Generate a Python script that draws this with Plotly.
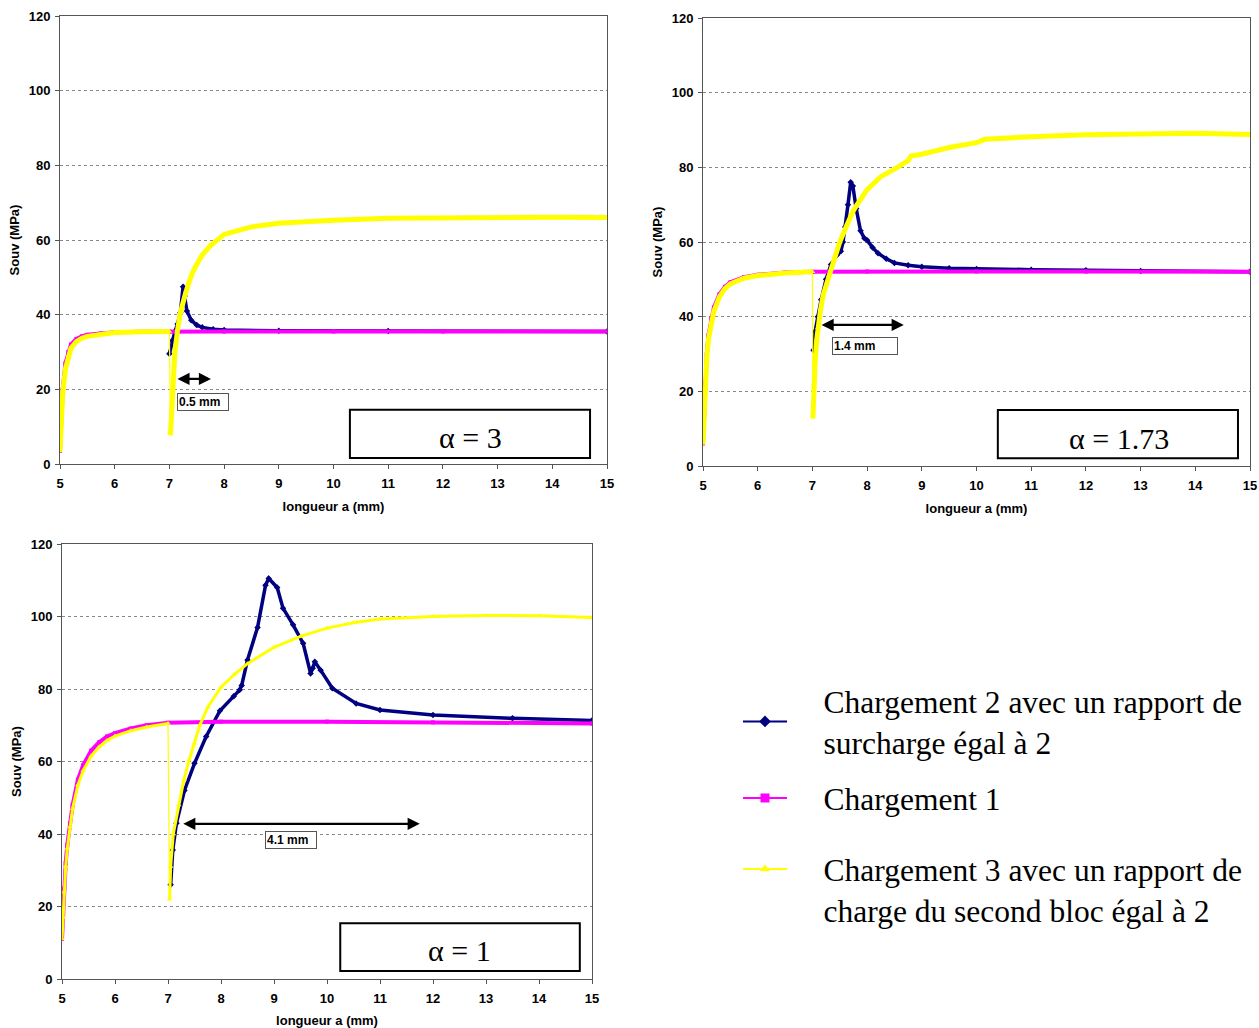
import plotly.graph_objects as go

W, H = 1259, 1028

# ---------------- DATA ----------------
# Panel alpha = 3
x_c1_a3 = [5.0, 5.02, 5.05, 5.1, 5.15, 5.2, 5.3, 5.4, 5.5, 5.75, 6.0, 6.5, 7.0, 8.0, 10.0, 12.0, 15.0]
y_c1_a3 = [3.5, 12, 20, 27, 30, 32, 33.5, 34.2, 34.6, 35.0, 35.3, 35.4, 35.5, 35.5, 35.5, 35.5, 35.5]
x_c2_a3 = [7.0, 7.05, 7.1, 7.15, 7.2, 7.25, 7.28, 7.32, 7.4, 7.5, 7.6, 7.8, 8.0, 9.0, 11.0, 15.0]
y_c2_a3 = [29.5, 33, 35.5, 37.5, 40.5, 47.5, 45, 41, 38.5, 37.2, 36.6, 36.1, 35.9, 35.7, 35.6, 35.5]
x_c3_a3 = [5.0, 5.02, 5.05, 5.1, 5.15, 5.2, 5.3, 5.4, 5.5, 5.75, 6.0, 6.5, 7.0, 7.02, 7.04, 7.06,
           7.08, 7.1, 7.15, 7.2, 7.3, 7.4, 7.5, 7.6, 7.75, 8.0, 8.25, 8.5, 9.0, 9.5, 10.0, 11.0,
           12.0, 13.0, 14.0, 15.0]
y_c3_a3 = [3.5, 11, 19, 25.5, 29, 31, 32.8, 33.7, 34.2, 34.8, 35.2, 35.4, 35.5, 8, 14, 20,
           26, 30, 36, 40.5, 46, 50.5, 53.5, 56, 58.5, 61.5, 62.5, 63.5, 64.5, 65.0, 65.3, 65.8,
           66.0, 66.1, 66.1, 66.0]

# Panel alpha = 1.73
x_c1_a173 = [5.0, 5.02, 5.04, 5.07, 5.1, 5.15, 5.2, 5.3, 5.4, 5.5, 5.75, 6.0, 6.5, 7.0, 8.0, 10.0, 12.0, 15.0]
y_c1_a173 = [6, 14, 22, 30, 35, 39.5, 42.5, 46, 48, 49.2, 50.6, 51.2, 51.8, 52.0, 52.1, 52.1, 52.1, 52.0]
x_c2_a173 = [7.02, 7.05, 7.1, 7.16, 7.25, 7.34, 7.45, 7.52, 7.56, 7.6, 7.65, 7.7, 7.74, 7.8, 7.88,
             7.95, 8.0, 8.1, 8.2, 8.35, 8.5, 8.75, 9.0, 9.5, 10.0, 11.0, 12.0, 13.0, 15.0]
y_c2_a173 = [31, 36, 40, 44.5, 50, 54, 56.5, 57.5, 60, 64, 70, 76, 75, 69, 63,
             61, 60.5, 58.5, 57, 55.5, 54.4, 53.8, 53.4, 53.0, 52.8, 52.6, 52.4, 52.2, 52.0]
x_c3_a173 = [5.0, 5.02, 5.04, 5.07, 5.1, 5.15, 5.2, 5.3, 5.4, 5.5, 5.75, 6.0, 6.5, 7.0, 7.01, 7.03,
             7.05, 7.08, 7.1, 7.15, 7.2, 7.3, 7.4, 7.5, 7.6, 7.75, 8.0, 8.25, 8.5, 8.75, 8.8, 9.0,
             9.5, 10.0, 10.15, 10.5, 11.0, 12.0, 13.0, 14.0, 15.0]
y_c3_a173 = [6, 13, 21, 29, 34, 38.5, 41.5, 45.3, 47.5, 48.8, 50.3, 51, 51.7, 52, 13, 22,
             28, 34, 37, 42, 46, 51, 56, 60, 63.5, 68.5, 74, 77.5, 79.5, 81.8, 83, 83.5,
             85.3, 86.6, 87.5, 87.8, 88.2, 88.7, 89.0, 89.1, 88.8]

# Panel alpha = 1
x_c1_a1 = [5.0, 5.02, 5.04, 5.07, 5.1, 5.15, 5.2, 5.3, 5.4, 5.55, 5.7, 5.85, 6.0, 6.3, 6.6, 7.0, 8.0, 10.0, 12.0, 15.0]
y_c1_a1 = [11, 18, 25, 32, 37, 43, 48, 55, 59, 63, 65.3, 66.9, 67.8, 69.1, 70.0, 70.7, 71.0, 71.0, 70.8, 70.5]
x_c2_a1 = [7.05, 7.09, 7.16, 7.31, 7.5, 7.72, 7.98, 8.24, 8.35, 8.39, 8.5, 8.69, 8.84, 8.9, 9.06,
           9.17, 9.36, 9.55, 9.69, 9.73, 9.77, 9.88, 10.1, 10.55, 11.0, 12.0, 13.5, 15.0]
y_c2_a1 = [26, 35.6, 43, 52, 59.5, 66.9, 74, 78, 79.7, 81, 88, 97, 108.6, 110.5, 108,
           102.3, 97.7, 92.6, 84.3, 85.7, 87.5, 85.2, 80.2, 76, 74.2, 72.8, 71.9, 71.3]
x_c3_a1 = [5.0, 5.02, 5.04, 5.07, 5.1, 5.15, 5.2, 5.3, 5.4, 5.55, 5.7, 5.85, 6.0, 6.3, 6.6, 7.0,
           7.03, 7.05, 7.1, 7.2, 7.3, 7.4, 7.5, 7.6, 7.75, 8.0, 8.25, 8.5, 9.0, 9.5, 10.0,
           10.5, 11.0, 12.0, 13.0, 14.0, 15.0]
y_c3_a1 = [11, 17, 24, 31, 36, 42, 47, 53.5, 57.5, 61.5, 64, 65.8, 67, 68.5, 69.5, 70.5,
           22, 31, 40, 48, 55, 60.5, 65, 70, 75, 80.5, 84, 87, 91.5, 94.5, 96.8,
           98.3, 99.3, 100.0, 100.3, 100.2, 99.7]

legend_lines = [["Chargement 2 avec un rapport de", "surcharge égal à 2"],
                ["Chargement 1"],
                ["Chargement 3 avec un rapport de", "charge du second bloc égal à 2"]]
x_ticks = [5, 6, 7, 8, 9, 10, 11, 12, 13, 14, 15]
y_ticks = [0, 20, 40, 60, 80, 100, 120]
alpha_labels = ["α = 3", "α = 1.73", "α = 1"]
gap_labels = ["0.5 mm", "1.4 mm", "4.1 mm"]

# ---------------- STYLE ----------------
NAVY, MAG, YEL = "#000080", "#FF00FF", "#FFFF00"

fig = go.Figure()


def split_at_drop(xs, ys):
    """Break the line (None) at the sudden unloading drop so only that segment stays thin."""
    for i in range(len(ys) - 1):
        if ys[i + 1] < ys[i] - 10:
            return xs[:i + 1] + [None] + xs[i + 1:], ys[:i + 1] + [None] + ys[i + 1:]
    return xs, ys


panels = [
    ("x", "y", x_c2_a3, y_c2_a3, x_c1_a3, y_c1_a3, x_c3_a3, y_c3_a3, 5),
    ("x2", "y2", x_c2_a173, y_c2_a173, x_c1_a173, y_c1_a173, x_c3_a173, y_c3_a173, 5),
    ("x3", "y3", x_c2_a1, y_c2_a1, x_c1_a1, y_c1_a1, x_c3_a1, y_c3_a1, 3),
]
for xa, ya, x2, y2, x1, y1, x3, y3, yw in panels:
    fig.add_trace(go.Scatter(x=x2, y=y2, xaxis=xa, yaxis=ya, mode="lines+markers",
                             line=dict(color=NAVY, width=3.5),
                             marker=dict(symbol="diamond", size=5, color=NAVY),
                             showlegend=False))
    fig.add_trace(go.Scatter(x=x1, y=y1, xaxis=xa, yaxis=ya, mode="lines+markers",
                             line=dict(color=MAG, width=4),
                             marker=dict(symbol="square", size=4, color=MAG),
                             showlegend=False))
    # thin full line (shows the thin vertical unloading segment)
    fig.add_trace(go.Scatter(x=x3, y=y3, xaxis=xa, yaxis=ya, mode="lines+markers",
                             line=dict(color=YEL, width=1.2),
                             marker=dict(symbol="triangle-up", size=5, color=YEL),
                             showlegend=False))
    xs_b, ys_b = split_at_drop(x3, y3)
    fig.add_trace(go.Scatter(x=xs_b, y=ys_b, xaxis=xa, yaxis=ya, mode="lines",
                             line=dict(color=YEL, width=yw), connectgaps=False,
                             showlegend=False, hoverinfo="skip"))

# legend entries (one legend per entry for exact vertical placement)
PAD = "&nbsp;" * 4
leg_ids = ["legend", "legend2", "legend3"]
for lines, col, sym, lid in zip(legend_lines, [NAVY, MAG, YEL],
                                ["diamond", "square", "triangle-up"], leg_ids):
    name = "<br>".join(PAD + s for s in lines)
    fig.add_trace(go.Scatter(x=[None], y=[None], xaxis="x3", yaxis="y3", name=name,
                             mode="lines+markers", legend=lid,
                             line=dict(color=col, width=2),
                             marker=dict(symbol=sym, size=9, color=col)))

def px_x(p):
    return p / W

def px_y(p):
    return 1 - p / H

axis_font = dict(family="Liberation Sans", size=13, color="black", weight="bold")
domains = {
    "1": dict(x=[px_x(60), px_x(607)], y=[px_y(464), px_y(16)]),
    "2": dict(x=[px_x(703), px_x(1250)], y=[px_y(466), px_y(18)]),
    "3": dict(x=[px_x(62), px_x(592)], y=[px_y(979), px_y(544)]),
}

leg_font = dict(family="Liberation Serif", size=31.5, color="black")
LX = px_x(738)
layout = dict(
    width=W, height=H, margin=dict(l=0, r=0, t=0, b=0, autoexpand=False),
    paper_bgcolor="white", plot_bgcolor="white",
    legend=dict(x=LX, y=px_y(674), xanchor="left", yanchor="top", font=leg_font,
                bgcolor="rgba(0,0,0,0)", itemwidth=44, valign="middle"),
    legend2=dict(x=LX, y=px_y(771), xanchor="left", yanchor="top", font=leg_font,
                 bgcolor="rgba(0,0,0,0)", itemwidth=44, valign="middle"),
    legend3=dict(x=LX, y=px_y(842), xanchor="left", yanchor="top", font=leg_font,
                 bgcolor="rgba(0,0,0,0)", itemwidth=44, valign="top"),
    showlegend=True,
)
for k in ["1", "2", "3"]:
    xs = "xaxis" if k == "1" else "xaxis" + k
    ys = "yaxis" if k == "1" else "yaxis" + k
    anchor_x = "y" if k == "1" else "y" + k
    anchor_y = "x" if k == "1" else "x" + k
    layout[xs] = dict(domain=domains[k]["x"], anchor=anchor_x, range=[5, 15],
                      tickvals=x_ticks, ticks="outside", ticklen=4, tickcolor="#555",
                      ticklabelstandoff=3, automargin=False,
                      showline=True, linecolor="#555", linewidth=1, mirror=True,
                      showgrid=False, zeroline=False, tickfont=axis_font,
                      title=dict(text="longueur a (mm)", font=axis_font, standoff=12))
    layout[ys] = dict(domain=domains[k]["y"], anchor=anchor_y, range=[0, 120],
                      tickvals=y_ticks, ticks="outside", ticklen=4, tickcolor="#555",
                      ticklabelstandoff=2, automargin=False,
                      showline=True, linecolor="#555", linewidth=1, mirror=True,
                      showgrid=True, gridcolor="#888", griddash="dot", gridwidth=1,
                      zeroline=False, tickfont=axis_font,
                      title=dict(text="Souv (MPa)", font=axis_font, standoff=6))
fig.update_layout(**layout)

# alpha boxes, arrows and gap labels
box_specs = [("x", "y", 10.30, 14.69, 1.6, 14.5, 12.5, 7.0),
             ("x2", "y2", 10.39, 14.78, 2.1, 15.0, 12.6, 7.5),
             ("x3", "y3", 10.25, 14.77, 2.2, 15.4, 12.5, 8.0)]
for i, (xr, yr, x0, x1, y0, y1, tx, ty) in enumerate(box_specs):
    fig.add_shape(type="rect", xref=xr, yref=yr, x0=x0, x1=x1, y0=y0, y1=y1,
                  line=dict(color="black", width=2), fillcolor="white")
    fig.add_annotation(xref=xr, yref=yr, x=tx, y=ty, text=alpha_labels[i], showarrow=False,
                       font=dict(family="Liberation Serif", size=30, color="black"))

arrow_specs = [("x", "y", 7.12, 7.76, 22.8, 7.62, 16.7),
               ("x2", "y2", 7.14, 8.67, 37.8, 7.96, 32.1),
               ("x3", "y3", 7.26, 11.75, 42.8, 9.32, 38.3)]
for i, (xr, yr, xa, xb, yv, lx, ly) in enumerate(arrow_specs):
    fig.add_annotation(xref=xr, yref=yr, axref=xr, ayref=yr, x=xb, y=yv, ax=xa, ay=yv,
                       text="", showarrow=True, arrowhead=2, startarrowhead=2,
                       arrowside="end+start", arrowsize=1.1, arrowwidth=2.2,
                       arrowcolor="black", startarrowsize=1.1)
    fig.add_annotation(xref=xr, yref=yr, x=lx, y=ly, text="<b>%s</b>" % gap_labels[i],
                       showarrow=False, bgcolor="white", bordercolor="#555", borderwidth=1,
                       borderpad=1, width=48 if i != 1 else 62, align="left",
                       font=dict(family="Liberation Sans", size=12, color="black"))

fig.write_html("out.html", config={"displayModeBar": False},
               post_script="document.body.style.margin='0';document.body.style.padding='0';")
